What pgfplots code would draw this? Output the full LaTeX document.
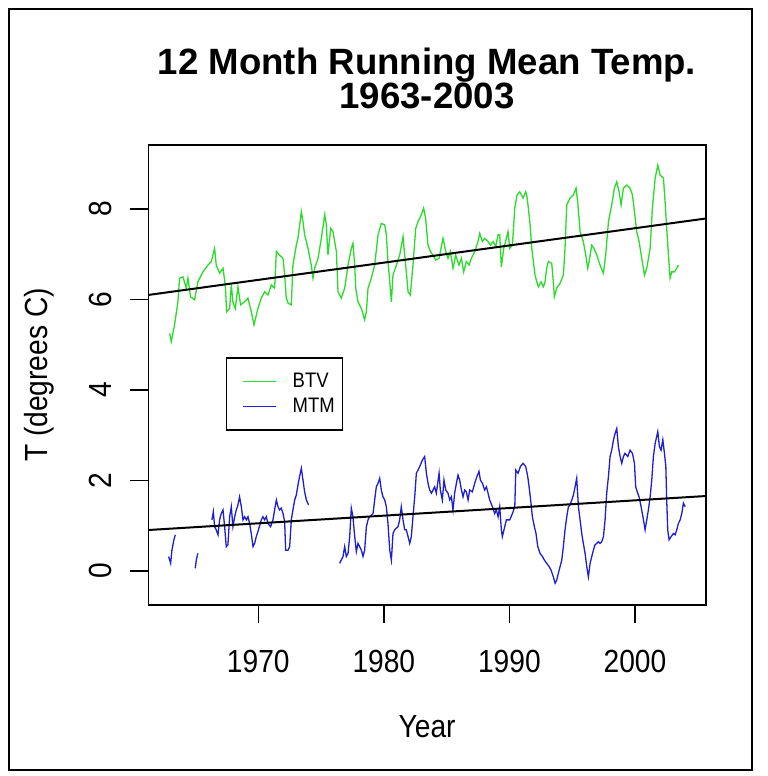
\documentclass[border=0pt]{standalone}
\usepackage{fontspec}
\setmainfont{Liberation Sans}[FakeStretch=0.88]
\newfontfamily\titlefont{Liberation Sans}
\usepackage{pgfplots}
\pgfplotsset{compat=1.18}
\definecolor{btvgreen}{RGB}{40,220,40}
\definecolor{mtmblue}{RGB}{30,30,210}

\pgfplotstableread{
year  temp
1962.94 5.25
1963.07 5.07
1963.33 5.44
1963.60 5.95
1963.73 6.47
1964.00 6.50
1964.26 6.25
1964.40 6.47
1964.61 6.06
1964.93 5.99
1965.19 6.39
1965.59 6.61
1965.99 6.76
1966.26 6.84
1966.52 7.13
1966.65 6.76
1966.92 6.58
1967.19 6.69
1967.37 6.32
1967.48 5.73
1967.72 5.80
1967.85 6.32
1967.98 5.95
1968.17 5.80
1968.38 6.28
1968.59 5.88
1968.91 5.95
1969.18 6.03
1969.44 5.73
1969.66 5.44
1969.97 5.80
1970.24 6.03
1970.51 6.17
1970.77 6.10
1971.04 6.32
1971.30 6.25
1971.44 7.06
1971.70 6.98
1971.97 6.91
1972.10 6.54
1972.23 6.03
1972.37 5.92
1972.63 5.88
1972.76 6.76
1973.03 7.20
1973.16 7.35
1973.43 7.94
1973.56 7.72
1973.69 7.43
1973.96 7.13
1974.22 6.76
1974.36 6.47
1974.49 6.69
1974.76 6.91
1975.02 7.35
1975.29 7.87
1975.42 7.65
1975.55 6.98
1975.77 7.57
1975.95 7.50
1976.22 7.06
1976.35 6.17
1976.61 6.03
1976.88 6.25
1977.15 6.76
1977.41 7.13
1977.54 7.24
1977.68 6.76
1977.76 6.25
1977.94 5.95
1978.21 5.80
1978.47 5.55
1978.61 5.73
1978.74 6.25
1979.00 6.47
1979.27 6.76
1979.54 7.43
1979.80 7.68
1980.07 7.65
1980.20 7.43
1980.33 6.84
1980.47 6.39
1980.60 5.95
1980.73 6.54
1981.00 6.76
1981.26 6.98
1981.53 7.39
1981.66 6.98
1981.79 6.61
1981.93 6.17
1982.11 6.10
1982.32 6.76
1982.54 7.57
1982.72 7.72
1982.99 7.87
1983.17 8.02
1983.33 7.79
1983.52 7.20
1983.71 7.06
1983.92 6.98
1984.13 6.87
1984.40 6.91
1984.71 7.35
1984.93 7.06
1985.11 6.91
1985.30 7.06
1985.51 6.69
1985.72 6.98
1985.99 6.76
1986.18 6.91
1986.36 6.61
1986.57 6.84
1986.79 6.76
1986.97 6.91
1987.24 7.06
1987.50 7.28
1987.64 7.46
1987.85 7.28
1988.03 7.35
1988.30 7.28
1988.49 7.20
1988.70 7.28
1988.91 7.17
1989.10 7.43
1989.23 7.43
1989.36 6.72
1989.55 7.13
1989.76 7.35
1989.89 7.50
1990.03 7.13
1990.24 7.20
1990.43 8.02
1990.61 8.31
1990.82 8.38
1991.09 8.24
1991.30 8.38
1991.38 8.31
1991.51 8.02
1991.65 7.65
1991.78 7.13
1991.91 6.84
1992.04 6.54
1992.18 6.39
1992.31 6.28
1992.52 6.39
1992.71 6.28
1992.84 6.39
1992.97 6.69
1993.11 6.84
1993.37 6.80
1993.50 6.39
1993.58 6.06
1993.77 6.25
1994.04 6.36
1994.30 6.54
1994.43 7.13
1994.57 8.09
1994.83 8.24
1995.10 8.31
1995.31 8.46
1995.44 8.16
1995.63 7.50
1995.89 7.28
1996.08 6.98
1996.24 6.69
1996.35 6.84
1996.56 7.20
1996.74 7.13
1996.96 6.98
1997.22 6.76
1997.49 6.58
1997.67 6.98
1997.89 7.72
1998.15 8.09
1998.36 8.46
1998.55 8.60
1998.74 8.38
1998.90 8.09
1999.08 8.46
1999.35 8.53
1999.61 8.46
1999.80 8.31
1999.96 7.94
2000.14 7.50
2000.33 7.28
2000.54 6.91
2000.76 6.54
2000.94 6.69
2001.21 7.13
2001.39 8.02
2001.61 8.68
2001.82 8.97
2002.00 8.75
2002.27 8.68
2002.40 8.16
2002.53 7.57
2002.67 6.98
2002.80 6.47
2002.93 6.61
2003.15 6.61
2003.33 6.69
2003.46 6.76
}\btvdata

% MTM record has gaps; nan rows break the line
\pgfplotstableread{
year  temp
1962.86 0.32
1963.02 0.17
1963.12 0.46
1963.28 0.69
1963.39 0.80
1964.20 nan
1964.98 0.06
1965.06 0.24
1965.19 0.39
1965.80 nan
1966.31 1.13
1966.42 1.31
1966.52 0.98
1966.65 0.91
1966.79 0.80
1966.92 1.13
1967.05 1.27
1967.19 1.35
1967.32 0.98
1967.45 0.54
1967.58 0.58
1967.72 1.20
1967.85 1.42
1967.98 0.98
1968.12 1.20
1968.25 1.35
1968.38 1.46
1968.51 1.64
1968.65 1.42
1968.78 1.13
1968.91 1.20
1969.05 1.13
1969.18 1.20
1969.31 1.05
1969.44 0.83
1969.58 0.54
1969.71 0.61
1969.84 0.76
1969.97 0.87
1970.24 1.13
1970.37 1.20
1970.51 1.13
1970.64 1.20
1970.77 1.05
1970.98 0.98
1971.17 1.13
1971.30 1.35
1971.44 1.57
1971.57 1.42
1971.70 1.35
1971.83 1.39
1971.97 1.27
1972.10 1.09
1972.18 0.46
1972.37 0.46
1972.50 0.54
1972.63 1.13
1972.76 1.35
1972.90 1.57
1973.03 1.68
1973.16 1.90
1973.29 2.09
1973.43 2.27
1973.56 2.01
1973.69 1.75
1973.83 1.57
1974.01 1.46
1975.00 nan
1976.48 0.17
1976.75 0.32
1976.88 0.54
1977.01 0.32
1977.15 0.39
1977.28 0.76
1977.41 1.39
1977.54 1.20
1977.68 0.76
1977.81 0.43
1977.94 0.61
1978.07 0.54
1978.21 0.46
1978.34 0.32
1978.47 0.46
1978.61 0.98
1978.74 1.13
1978.87 1.20
1979.14 1.27
1979.27 1.57
1979.40 1.86
1979.54 1.94
1979.67 2.05
1979.80 1.79
1979.93 1.64
1980.07 1.57
1980.20 1.42
1980.33 1.05
1980.47 0.46
1980.60 0.24
1980.73 0.83
1980.86 0.91
1981.13 0.98
1981.26 1.13
1981.39 1.42
1981.53 1.13
1981.66 0.91
1981.79 0.91
1981.93 0.76
1982.06 0.61
1982.19 0.76
1982.32 1.20
1982.46 1.64
1982.59 2.16
1982.72 2.23
1982.86 2.31
1983.07 2.45
1983.25 2.53
1983.39 2.16
1983.52 1.94
1983.65 1.79
1983.79 1.72
1984.05 1.86
1984.18 1.72
1984.40 2.16
1984.50 1.79
1984.66 1.57
1984.79 2.01
1984.93 1.79
1985.11 1.72
1985.25 1.57
1985.38 1.64
1985.51 1.35
1985.64 1.72
1985.78 1.94
1985.91 2.12
1986.04 2.01
1986.18 1.79
1986.31 1.64
1986.44 1.79
1986.57 1.75
1986.71 1.57
1986.84 1.79
1987.05 1.75
1987.24 1.94
1987.42 2.09
1987.58 2.20
1987.69 2.01
1987.85 1.94
1988.03 1.79
1988.17 1.86
1988.30 1.72
1988.43 1.57
1988.65 1.42
1988.83 1.27
1988.96 1.35
1989.10 1.20
1989.23 1.42
1989.36 0.91
1989.44 0.76
1989.63 0.98
1989.76 1.13
1990.03 1.13
1990.24 1.27
1990.43 1.42
1990.51 2.23
1990.69 2.16
1990.88 2.31
1991.09 2.38
1991.30 2.31
1991.46 2.09
1991.57 1.86
1991.72 1.50
1991.83 1.20
1991.99 0.98
1992.12 0.83
1992.26 0.54
1992.44 0.39
1992.63 0.32
1992.79 0.24
1992.97 0.17
1993.16 0.10
1993.32 0.02
1993.50 -0.13
1993.64 -0.27
1993.77 -0.20
1993.90 -0.05
1994.04 0.10
1994.17 0.24
1994.30 0.54
1994.43 0.91
1994.57 1.20
1994.70 1.42
1994.83 1.46
1994.97 1.57
1995.10 1.68
1995.23 1.86
1995.36 2.05
1995.50 1.42
1995.63 1.13
1995.76 0.83
1995.89 0.61
1996.03 0.39
1996.16 0.10
1996.29 -0.13
1996.43 0.17
1996.56 0.32
1996.69 0.46
1996.82 0.58
1996.96 0.61
1997.09 0.65
1997.22 0.61
1997.36 0.65
1997.49 0.76
1997.62 1.13
1997.75 1.72
1997.89 2.09
1998.02 2.53
1998.15 2.67
1998.29 2.90
1998.42 3.04
1998.55 3.15
1998.68 2.75
1998.82 2.53
1998.95 2.38
1999.08 2.53
1999.21 2.60
1999.43 2.53
1999.61 2.67
1999.80 2.60
1999.96 2.38
2000.06 1.86
2000.22 1.72
2000.33 1.64
2000.49 1.42
2000.68 1.13
2000.81 0.91
2000.94 1.13
2001.07 1.35
2001.21 1.64
2001.34 2.01
2001.47 2.53
2001.61 2.82
2001.82 3.08
2001.95 2.75
2002.08 2.67
2002.22 2.90
2002.35 2.60
2002.46 2.31
2002.53 1.57
2002.61 0.91
2002.72 0.69
2002.88 0.76
2003.07 0.83
2003.20 0.80
2003.33 0.91
2003.46 1.05
2003.60 1.13
2003.73 1.27
2003.86 1.50
2004.00 1.42
}\mtmdata

\begin{document}
\begin{tikzpicture}
% page: 767 x 776 px at 0.5pt per px
\path[fill=white] (0pt,0pt) rectangle (383.5pt,388pt);
\draw[line width=0.8pt] (4.5pt,3pt) rectangle (376pt,383.5pt);

\node[anchor=base, font=\titlefont\bfseries\fontsize{18.3}{22}\selectfont]
  at (213.5pt,350.5pt) {12 Month Running Mean Temp.};
\node[anchor=base, font=\titlefont\bfseries\fontsize{18.3}{22}\selectfont]
  at (213.5pt,333.5pt) {1963-2003};

\begin{axis}[
  at={(74.15pt,85.5pt)}, anchor=south west,
  scale only axis, width=278.85pt, height=230pt,
  xmin=1961.24, xmax=2005.66, ymin=-0.751, ymax=9.414,
  axis line style={line width=0.75pt},
  xtick={1970,1980,1990,2000}, ytick={0,2,4,6,8},
  xtick pos=left, ytick pos=left,
  tick align=outside, major tick length=9pt,
  tick style={black, line width=0.75pt},
  /pgf/number format/assume math mode=true,
  /pgf/number format/1000 sep={},
  xticklabel style={font=\fontsize{16}{19}\selectfont, anchor=center, yshift=-19pt},
  yticklabel style={font=\fontsize{16}{19}\selectfont, xshift=-15pt, rotate=90, anchor=center},
  xlabel={Year},
  ylabel={T (degrees C)},
  xlabel style={font=\fontsize{16}{19}\selectfont, at={(axis description cs:0.5,-0.2652)}, anchor=center},
  ylabel style={font=\fontsize{16}{19}\selectfont, at={(axis description cs:-0.1955,0.5)}, anchor=center},
  unbounded coords=jump,
  legend cell align=left,
  legend style={at={(0.1393,0.539)}, anchor=north west, draw=black, line width=0.75pt,
    fill=white, inner xsep=0pt, inner ysep=5.5pt, row sep=0pt,
    font=\fontsize{10.5}{12}\selectfont,
    nodes={inner sep=0pt, text width=25pt, minimum height=12.5pt, align=left}},
  legend image code/.code={%
    \path[draw=none, fill=none] (0pt,-2pt) rectangle (33pt,2pt);
    \draw[#1, line width=0.7pt] (8pt,0pt) -- (24.5pt,0pt);},
]
\addplot[btvgreen, line width=0.65pt] table[x=year, y=temp] {\btvdata};
\addlegendentry{BTV}
\addplot[mtmblue, line width=0.65pt] table[x=year, y=temp] {\mtmdata};
\addlegendentry{MTM}
% least-squares trend lines
\addplot[black, line width=1pt, forget plot] coordinates {(1961.24,6.10) (2005.66,7.79)};
\addplot[black, line width=1pt, forget plot] coordinates {(1961.24,0.906) (2005.66,1.657)};
\end{axis}
\end{tikzpicture}
\end{document}
